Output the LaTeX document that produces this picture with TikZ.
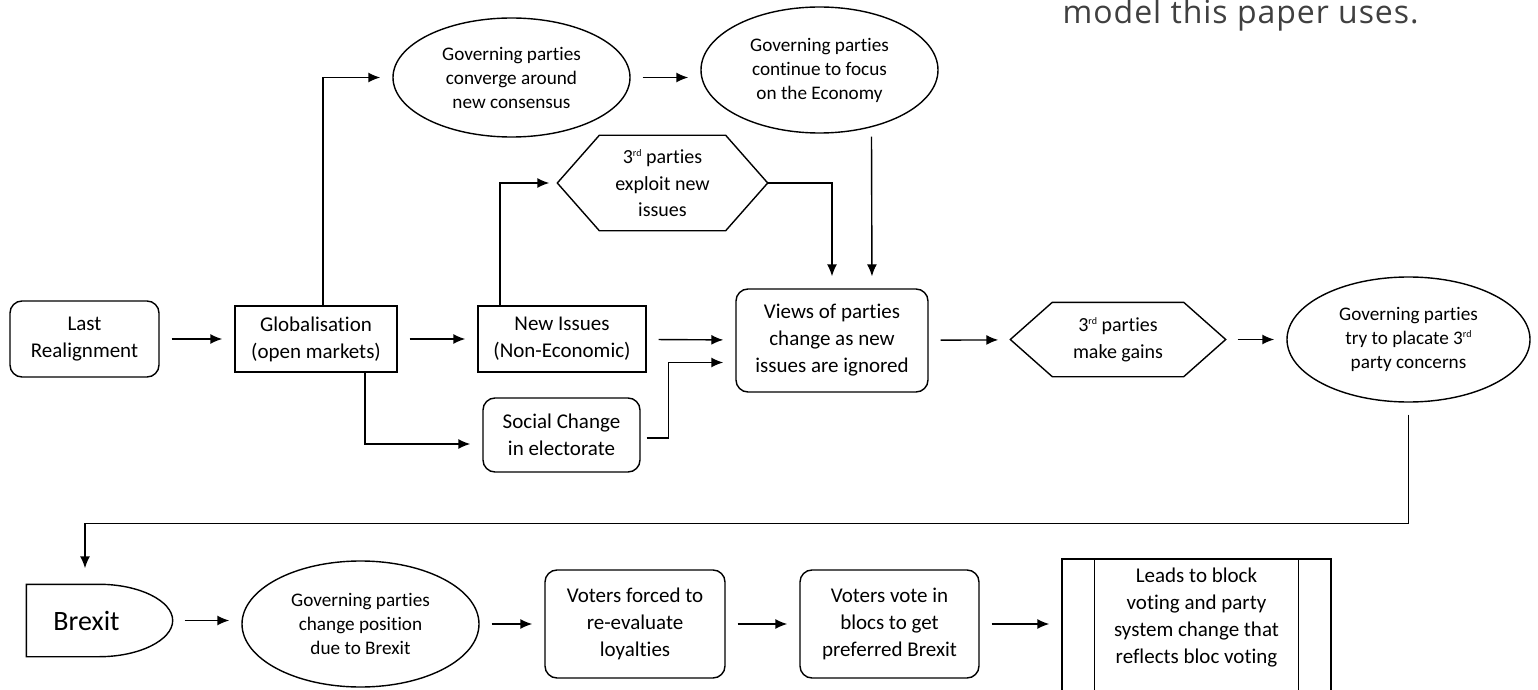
\documentclass[tikz,border=0pt]{standalone}
\usepackage{fontspec}
\setmainfont{Carlito}[Ligatures={NoCommon}]
\newfontfamily\notefont{Open Sans}[LetterSpace=3]
\usetikzlibrary{arrows.meta,shapes.geometric}
\definecolor{notegray}{HTML}{404040}
\newcommand{\ord}[1]{\raisebox{0.8ex}{\fontsize{5}{5}\selectfont #1}}
\begin{document}
\begin{tikzpicture}[x=0.5pt, y=-0.5pt, line width=0.7pt,
        flow/.style={-{Latex[length=6pt,width=5pt]}, shorten >=6pt},
        spaced/.style={shorten <=6pt},
        roundbox/.style={draw, rounded corners=6pt, align=center, inner sep=2pt, font=\fontsize{10.5}{13.5}\selectfont},
        plainbox/.style={draw, align=center, inner sep=2pt, font=\fontsize{10.5}{13.5}\selectfont},
        oval/.style={draw, ellipse, align=center, inner sep=1pt, font=\fontsize{9.6}{12}\selectfont},
        hexbox/.style={align=center, inner sep=2pt, font=\fontsize{10}{13.25}\selectfont}]
                \useasboundingbox (0,0) rectangle (1538,690);
                \node[anchor=base west, inner sep=0, text=notegray, font=\notefont\fontsize{16}{19}\selectfont] (note) at (1062,24) {model this paper uses.};
                % upper chain
                \node[roundbox, minimum width=74.5pt, minimum height=38pt] (last) at (84.5,339) {Last\\Realignment};
                \node[plainbox, minimum width=81pt, minimum height=33pt] (glob) at (316,339) {Globalisation\\(open markets)};
                \node[plainbox, minimum width=84pt, minimum height=33pt] (issues) at (562,339) {New Issues\\(Non-Economic)};
                \node[roundbox, minimum width=78.5pt, minimum height=37pt] (social) at (561.5,435) {Social Change\\in electorate};
                \node[roundbox, minimum width=96pt, minimum height=51.5pt] (views) at (832,340.5) {Views of parties\\change as new\\issues are ignored};
                \node[oval, minimum width=118.5pt, minimum height=59.5pt] (conv) at (511.5,77.5) {Governing parties\\converge around\\new consensus};
                \node[oval, minimum width=118.5pt, minimum height=63pt] (economy) at (819.5,70) {Governing parties\\continue to focus\\on the Economy};
                \node[hexbox, minimum width=104.5pt, minimum height=47pt] (exploit) at (662.5,183) {3\ord{rd} parties\\exploit new\\issues};
                \node[hexbox, minimum width=107pt, minimum height=36.5pt] (gains) at (1118,339.5) {3\ord{rd} parties\\make gains};
                \node[oval, minimum width=121.5pt, minimum height=62.5pt] (placate) at (1408.5,339.5) {Governing parties\\try to placate 3\ord{rd}\\party concerns};
                \foreach \h in {exploit,gains}
                    {
                        \draw (\h.west) -- ([shift={(42,0)}]\h.north west) -- ([shift={(-42,0)}]\h.north east) -- (\h.east)
                            -- ([shift={(-42,0)}]\h.south east) -- ([shift={(42,0)}]\h.south west) -- cycle;
                    }
                % lower chain
                \node[inner sep=0, minimum width=72.5pt, minimum height=35.5pt, font=\fontsize{14}{16}\selectfont] (brexit) at (99.5,620.5) {Brexit\hspace*{13pt}};
                \draw (brexit.north west) -- ([shift={(73,0)}]brexit.north west)
                    .. controls ([shift={(113,0)}]brexit.north west) and ([shift={(0,-19.6)}]brexit.east) .. (brexit.east)
                    .. controls ([shift={(0,19.6)}]brexit.east) and ([shift={(113,0)}]brexit.south west) .. ([shift={(73,0)}]brexit.south west)
                    -- (brexit.south west) -- cycle;
                \node[oval, minimum width=118.5pt, minimum height=63pt] (change) at (360.5,624) {Governing parties\\change position\\due to Brexit};
                \node[roundbox, minimum width=90pt, minimum height=54pt] (forced) at (635,624) {Voters forced to\\re-evaluate\\loyalties};
                \node[roundbox, minimum width=89.5pt, minimum height=54pt] (vote) at (889.5,624) {Voters vote in\\blocs to get\\preferred Brexit};
                \node[draw, inner sep=0, minimum width=134.5pt, minimum height=80.5pt] (leads) at (1196.5,639.5) {};
                \draw ([shift={(33,0)}]leads.north west) -- ([shift={(33,0)}]leads.south west);
                \draw ([shift={(-33,0)}]leads.north east) -- ([shift={(-33,0)}]leads.south east);
                \node[align=center, inner sep=0, font=\fontsize{10.5}{13.5}\selectfont] (leadstext) at (1196.5,618) {Leads to block\\voting and party\\system change that\\reflects bloc voting};
                % connectors
                \foreach \a/\b in {last/glob, glob/issues, issues/views, views/gains, gains/placate, change/forced, forced/vote}
                    {
                        \draw[flow, spaced] (\a) -- (\b);
                    }
                \draw[flow, spaced] (brexit.east) -- (brexit.east -| change.west);
                \draw[flow, spaced] (conv.east) -- (conv.east -| economy.west);
                \draw[flow, spaced] (vote) -- (vote -| leads.west);
                \draw[flow] ([shift={(7,0)}]glob.north) |- (conv);
                \draw[flow] ([shift={(49,0)}]glob.south) |- ([shift={(0,9)}]social.west);
                \draw[flow, shorten >=4pt] ([shift={(-62,0)}]issues.north) |- (exploit);
                \draw[flow] (exploit.east) -| (views.north);
                \draw[flow] ([shift={(52,3)}]economy.south) -- ([shift={(40,0)}]views.north);
                \draw[flow] ([shift={(6,3)}]social.east) -- ++(22,0) |- ([shift={(0,22)}]views.west);
                \draw[flow, shorten >=8pt] ([shift={(0,12)}]placate.south) -- ++(0,109) -| ([shift={(-14.5,0)}]brexit.north);
            \end{tikzpicture}
\end{document}
